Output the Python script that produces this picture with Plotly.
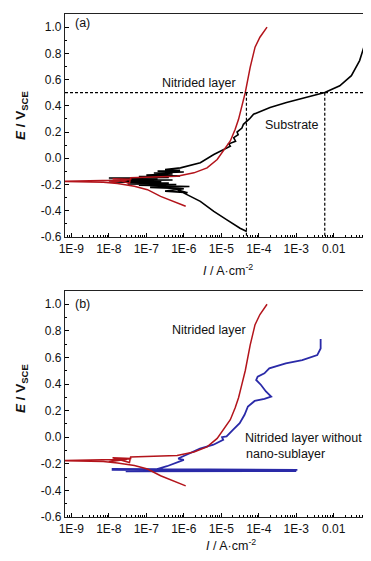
import plotly.graph_objects as go

# ---------------- data (log10 of current density, potential) ----------------
# Panel (a): substrate (black)
sub_logI = [-4.32, -4.50, -4.85, -5.20, -5.56, -5.82, -6.00, -6.18,
            -5.90, -6.50, -6.00, -6.90, -5.85, -7.20, -6.20, -7.50, -6.40, -7.90,
            -6.60, -8.00, -6.30, -7.70, -6.70, -8.00, -6.40, -7.20, -6.10, -7.00,
            -6.30, -6.80, -6.00, -6.70, -6.10, -6.50, -6.09,
            -5.56, -5.20, -4.94, -4.76, -4.80, -4.62, -4.67, -4.55, -4.58, -4.45,
            -4.41, -4.25, -4.14, -3.70, -3.26, -2.73, -2.24, -1.84, -1.53, -1.31, -1.14]
sub_E = [-0.558, -0.533, -0.469, -0.405, -0.328, -0.290, -0.270, -0.239,
         -0.262, -0.250, -0.232, -0.222, -0.215, -0.205, -0.200, -0.195, -0.188, -0.180,
         -0.176, -0.170, -0.165, -0.160, -0.155, -0.150, -0.146, -0.140, -0.135, -0.128,
         -0.120, -0.112, -0.105, -0.098, -0.092, -0.085, -0.073,
         -0.034, 0.029, 0.068, 0.093, 0.110, 0.130, 0.157, 0.180, 0.200, 0.230,
         0.259, 0.300, 0.336, 0.387, 0.425, 0.464, 0.502, 0.553, 0.630, 0.745, 0.898]

# Nitrided layer (red), same curve in (a) and (b)
nit_logI = [-5.95, -6.26, -6.62, -6.97, -7.32, -7.77, -8.15, -9.50, -8.20,
            -7.50, -8.00, -7.40, -7.90, -7.45, -7.42,
            -6.71, -6.18, -5.73, -5.38, -5.11, -4.94, -4.76, -4.63, -4.54, -4.45,
            -4.36, -4.23, -4.10, -3.97, -3.78]
nit_E = [-0.366, -0.328, -0.290, -0.239, -0.213, -0.193, -0.182, -0.176, -0.172,
         -0.165, -0.185, -0.160, -0.155, -0.190, -0.149,
         -0.144, -0.137, -0.111, -0.073, -0.009, 0.055, 0.132, 0.221, 0.297, 0.400,
         0.502, 0.693, 0.847, 0.923, 1.000]

# Panel (b): nitrided layer without nano-sublayer (blue)
nns_logI = [-2.97, -7.90, -7.90, -3.00, -3.00, -7.55, -6.76, -6.45, -6.20, -6.00,
            -6.15, -5.92, -5.57, -5.21, -4.95, -4.98, -4.86, -4.69, -4.51, -4.38,
            -4.29, -4.11, -3.85, -3.67, -3.81, -3.94, -4.07, -4.03, -3.85, -3.72,
            -3.28, -2.84, -2.44, -2.35, -2.35]
nns_E = [-0.245, -0.238, -0.245, -0.250, -0.255, -0.256, -0.243, -0.218, -0.190, -0.170,
         -0.160, -0.131, -0.086, -0.056, -0.019, 0.000, 0.007, 0.056, 0.106, 0.169,
         0.231, 0.273, 0.288, 0.306, 0.344, 0.393, 0.431, 0.456, 0.481, 0.518,
         0.556, 0.580, 0.618, 0.668, 0.738]

# reference (dashed) lines in (a)
ref_E = 0.5
ref_logI = [-4.33, -2.24]

# ticks
x_tickvals = [1e-9, 1e-8, 1e-7, 1e-6, 1e-5, 1e-4, 1e-3, 1e-2]
x_ticktext = ["1E-9", "1E-8", "1E-7", "1E-6", "1E-5", "1E-4", "1E-3", "0.01"]
y_tickvals = [-0.6, -0.4, -0.2, 0.0, 0.2, 0.4, 0.6, 0.8, 1.0]
y_ticktext = ["-0.6", "-0.4", "-0.2", "0.0", "0.2", "0.4", "0.6", "0.8", "1.0"]
x_minor = [k * 10.0 ** n for n in range(-10, -1) for k in range(2, 10)]

# ---------------- figure ----------------
W, H = 371, 561
ML, MR, MT, MB = 57, 10, 6, 52
PW, PH = W - ML - MR, H - MT - MB
RED = "#b3141b"
BLUE = "#2a2aa8"
FONT = "Liberation Sans, Arial, sans-serif"


def pxx(px):
    return (px - ML) / PW


def pxy(py):
    return (H - MB - py) / PH


fig = go.Figure()

# panel (a)
fig.add_trace(go.Scatter(x=[10 ** v for v in sub_logI], y=sub_E, mode="lines",
                         line=dict(color="black", width=1.6), xaxis="x", yaxis="y"))
fig.add_trace(go.Scatter(x=[10 ** v for v in nit_logI], y=nit_E, mode="lines",
                         line=dict(color=RED, width=1.5), xaxis="x", yaxis="y"))
for v in ref_logI:
    fig.add_trace(go.Scatter(x=[10 ** v, 10 ** v], y=[ref_E, -0.6], mode="lines",
                             line=dict(color="black", width=1.2, dash="3px,2px"),
                             xaxis="x", yaxis="y"))

# panel (b)
fig.add_trace(go.Scatter(x=[10 ** v for v in nns_logI], y=nns_E, mode="lines",
                         line=dict(color=BLUE, width=1.8), xaxis="x2", yaxis="y2"))
fig.add_trace(go.Scatter(x=[10 ** v for v in nit_logI], y=nit_E, mode="lines",
                         line=dict(color=RED, width=1.5), xaxis="x2", yaxis="y2"))

xcommon = dict(type="log", range=[-9.17, -1.06], tickmode="array",
               tickvals=x_tickvals, ticktext=x_ticktext,
               ticks="inside", ticklen=4, tickwidth=1, tickcolor="black",
               showline=True, linecolor="#222", linewidth=1.2, mirror=True,
               showgrid=False, zeroline=False, automargin=False,
               minor=dict(tickmode="array", tickvals=x_minor, ticks="inside", ticklen=2,
                          tickcolor="black", showgrid=False),
               tickfont=dict(family=FONT, size=12, color="#111"))
ycommon = dict(range=[-0.6, 1.1], tickmode="array", tickvals=y_tickvals, ticktext=y_ticktext,
               ticks="inside", ticklen=4, tickwidth=1, tickcolor="black",
               showline=True, linecolor="#222", linewidth=1.2, mirror=True,
               showgrid=False, zeroline=False, automargin=False,
               minor=dict(tickmode="linear", tick0=-0.6, dtick=0.1, ticks="inside", ticklen=2,
                          tickcolor="black", showgrid=False),
               tickfont=dict(family=FONT, size=12, color="#111"))

dom_a = [pxy(229), 1.0]
dom_b = [0.0, pxy(283)]

fig.update_layout(
    width=W, height=H, showlegend=False,
    margin=dict(l=ML, r=MR, t=MT, b=MB),
    paper_bgcolor="white", plot_bgcolor="white",
    font=dict(family=FONT, size=12, color="#111"),
    xaxis=dict(**xcommon, anchor="y"),
    yaxis=dict(**ycommon, anchor="x", domain=dom_a),
    xaxis2=dict(**xcommon, anchor="y2"),
    yaxis2=dict(**ycommon, anchor="x2", domain=dom_b),
)

# horizontal dashed line in (a)
fig.add_shape(type="line", xref="x domain", yref="y", x0=0, x1=1, y0=ref_E, y1=ref_E,
              line=dict(color="black", width=1.2, dash="3px,2px"))

ann = [
    dict(text="(a)", x=pxx(65), y=pxy(15), xanchor="left"),
    dict(text="Nitrided layer", x=pxx(191), y=pxy(75)),
    dict(text="Substrate", x=pxx(284), y=pxy(117)),
    dict(text="(b)", x=pxx(65), y=pxy(296), xanchor="left"),
    dict(text="Nitrided layer", x=pxx(201), y=pxy(322)),
    dict(text="Nitrided layer without", x=pxx(295), y=pxy(430)),
    dict(text="nano-sublayer", x=pxx(277), y=pxy(446)),
    dict(text="<b><i>E</i> / V<sub>SCE</sub></b>", x=pxx(13), y=pxy(108), textangle=-90, size=13.5),
    dict(text="<b><i>E</i> / V<sub>SCE</sub></b>", x=pxx(13), y=pxy(381), textangle=-90, size=13.5),
    dict(text="<i>I</i> / A·cm<sup>-2</sup>", x=pxx(220), y=pxy(262)),
    dict(text="<i>I</i> / A·cm<sup>-2</sup>", x=pxx(223), y=pxy(537)),
]
for a in ann:
    a.setdefault("xanchor", "center")
    size = a.pop("size", 12.5)
    fig.add_annotation(xref="paper", yref="paper", showarrow=False, yanchor="middle",
                       font=dict(family=FONT, size=size, color="#111"), **a)

fig.write_html("out.html")
